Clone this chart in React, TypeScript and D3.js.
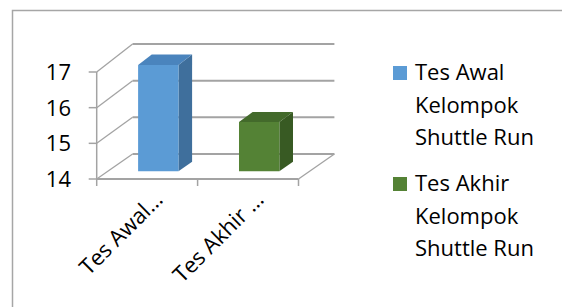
import React from 'react';
import * as d3 from 'd3';

const categories = ['Tes Awal…', 'Tes Akhir …'];
const values = [16.95, 15.37];
const seriesNames = [
  ['Tes Awal', 'Kelompok', 'Shuttle Run'],
  ['Tes Akhir', 'Kelompok', 'Shuttle Run'],
];
const yTicks = [14, 15, 16, 17];

const frontColors = ['#5b9bd5', '#548235'];
const sideColors = ['#3f6f9c', '#385a23'];
const topColors = ['#4a84bd', '#436a2b'];

const W = 562;
const H = 307;
const FONT = '"Open Sans", "Liberation Sans", sans-serif';
const GRID = '#a3a3a3';

export default function App() {
  // front plane and back plane of the 3D box
  const xFront = d3.scaleBand<string>().domain(categories).range([96.7, 298.5]);
  const yFront = d3.scaleLinear().domain([14, 17]).range([179, 72]);
  const yBack = d3.scaleLinear().domain([14, 17]).range([154, 44]);
  const depthDx = 35.9;

  const px = (x: number, t: number) => x + depthDx * t;
  const py = (v: number, t: number) => yFront(v) + (yBack(v) - yFront(v)) * t;

  const x0 = xFront.range()[0];
  const x1 = xFront.range()[1];
  const t1 = 0.31;
  const t2 = 0.69;
  const barW = xFront.bandwidth() * 0.4;

  const pts = (arr: [number, number][]) => arr.map((p) => p.join(',')).join(' ');

  return (
    <svg width={W} height={H} style={{ position: 'absolute', left: 0, top: 0 }} fontFamily={FONT}>
      <rect x={0} y={0} width={W} height={H} fill="#fff" />
      <rect x={12.5} y={10.5} width={W + 20} height={H + 20} fill="none" stroke="#a6a6a6" strokeWidth={1.5} />

      {/* back wall gridlines + left wall */}
      {yTicks.map((v) => (
        <g key={`g-${v}`}>
          <line x1={px(x0, 1)} x2={px(x1, 1)} y1={yBack(v)} y2={yBack(v)} stroke={GRID} strokeWidth={2} />
          <line x1={x0} y1={yFront(v)} x2={px(x0, 1)} y2={yBack(v)} stroke={GRID} strokeWidth={1.3} />
        </g>
      ))}
      {/* floor */}
      <line x1={x0} x2={x1} y1={yFront(14)} y2={yFront(14)} stroke={GRID} strokeWidth={2} />
      <line x1={x1} y1={yFront(14)} x2={px(x1, 1)} y2={yBack(14)} stroke={GRID} strokeWidth={1.3} />
      {/* y axis */}
      <line x1={x0} x2={x0} y1={yFront(14)} y2={yFront(17)} stroke={GRID} strokeWidth={1.5} />
      {yTicks.map((v) => (
        <g key={`t-${v}`}>
          <line x1={x0 - 8} x2={x0} y1={yFront(v)} y2={yFront(v)} stroke={GRID} strokeWidth={1.5} />
          <text x={71} y={yFront(v)} dy="0.36em" textAnchor="end" fontSize={22} fill="#000">
            {v}
          </text>
        </g>
      ))}
      {/* category ticks */}
      {[x0, x0 + xFront.step(), x1].map((x, i) => (
        <line key={`ct-${i}`} x1={x} x2={x} y1={yFront(14)} y2={yFront(14) + 7} stroke={GRID} strokeWidth={1.5} />
      ))}

      {/* bars */}
      {categories.map((c, i) => {
        const cx = xFront(c)! + xFront.bandwidth() / 2;
        const l = cx - barW / 2;
        const r = cx + barW / 2;
        const v = values[i];
        const front: [number, number][] = [
          [px(l, t1), py(v, t1)],
          [px(r, t1), py(v, t1)],
          [px(r, t1), py(14, t1)],
          [px(l, t1), py(14, t1)],
        ];
        const side: [number, number][] = [
          [px(r, t1), py(v, t1)],
          [px(r, t2), py(v, t2)],
          [px(r, t2), py(14, t2)],
          [px(r, t1), py(14, t1)],
        ];
        const top: [number, number][] = [
          [px(l, t1), py(v, t1)],
          [px(l, t2), py(v, t2)],
          [px(r, t2), py(v, t2)],
          [px(r, t1), py(v, t1)],
        ];
        return (
          <g key={`bar-${c}`}>
            <polygon points={pts(side)} fill={sideColors[i]} />
            <polygon points={pts(top)} fill={topColors[i]} />
            <polygon points={pts(front)} fill={frontColors[i]} />
          </g>
        );
      })}

      {/* category labels */}
      {categories.map((c) => {
        const cx = xFront(c)! + xFront.bandwidth() / 2;
        return (
          <text
            key={`lab-${c}`}
            transform={`translate(${cx + 17},${201}) rotate(-45)`}
            textAnchor="end"
            fontSize={22}
            fill="#000"
          >
            {c}
          </text>
        );
      })}

      {/* legend */}
      {seriesNames.map((lines, i) => {
        const y0 = 80 + i * 111;
        return (
          <g key={`leg-${i}`}>
            <rect x={393} y={y0 - 14} width={14} height={14} fill={frontColors[i]} />
            {lines.map((t, j) => (
              <text key={t + j} x={415} y={y0 + j * 32.7} fontSize={22} fill="#000">
                {t}
              </text>
            ))}
          </g>
        );
      })}
    </svg>
  );
}
